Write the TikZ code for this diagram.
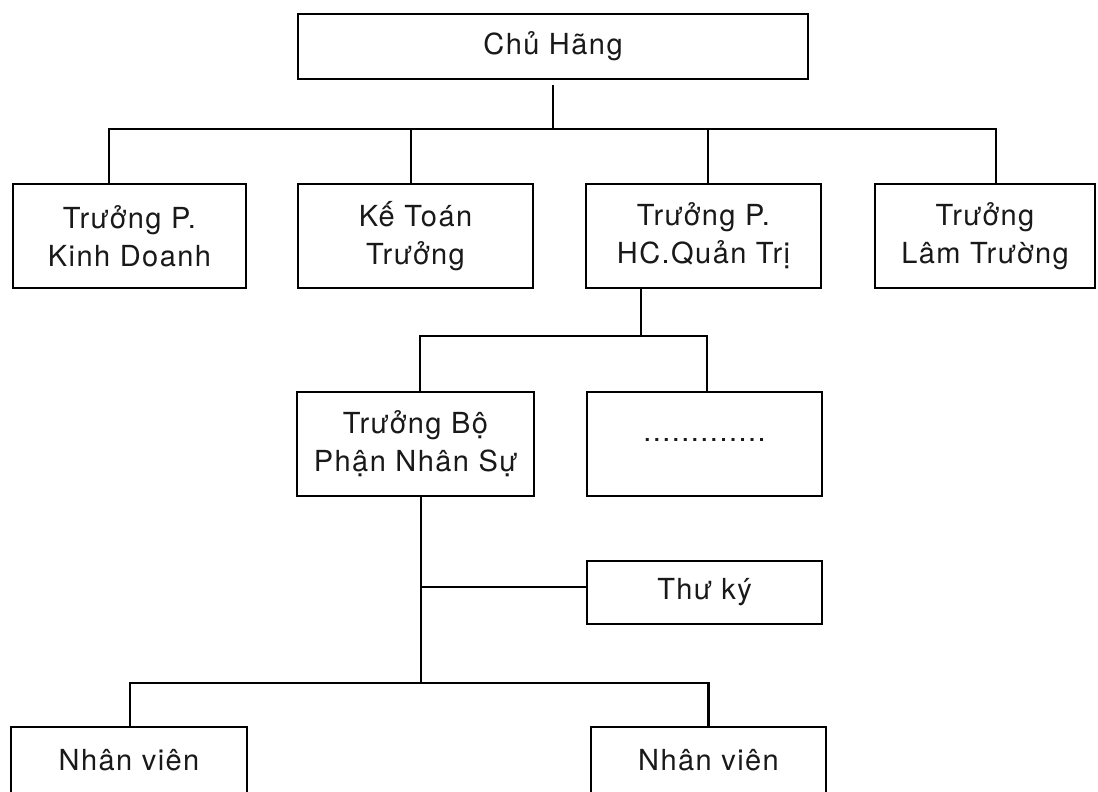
\documentclass[tikz,border=0pt]{standalone}
\usepackage{fontspec}
\setmainfont[LetterSpace=5]{TeX Gyre Heros}
\begin{document}
\begin{tikzpicture}[x=1pt,y=-1pt,
  box/.style={draw=black, line width=2.5pt, rectangle, inner sep=0pt, outer sep=0pt,
    align=center, font=\fontsize{29}{38}\selectfont, text=black!90},
  thin box/.style={box, line width=1.6pt},
  wire/.style={draw=black, line width=2.5pt, line cap=rect}]
\useasboundingbox (0,0) rectangle (1098,792);
\fill[white] (0,0) rectangle (1098,792);

% nodes
\node[box, minimum width=510pt, minimum height=65pt] (boss) at (553,46.5) {Chủ Hãng};
\node[box, minimum width=233pt, minimum height=104pt] (kd) at (129.5,236) {Trưởng P.\\Kinh Doanh};
\node[box, minimum width=235pt, minimum height=104pt] (kt) at (415.5,236) {Kế Toán\\Trưởng};
\node[box, minimum width=235pt, minimum height=104pt] (hc) at (703.5,236) {Trưởng P.\\HC.Quản Trị};
\node[box, minimum width=220pt, minimum height=104pt] (lt) at (985,236) {Trưởng\\Lâm Trường};
\node[box, minimum width=237pt, minimum height=104pt] (tbp) at (415.5,444) {Trưởng Bộ\\Phận Nhân Sự};
\node[box, minimum width=235pt, minimum height=104pt] (dots) at (704.5,444) {\raisebox{9pt}{.............}};
\node[thin box, minimum width=235pt, minimum height=63pt] (tk) at (704.5,592.5) {Thư ký};
\node[box, minimum width=236pt, minimum height=67pt] (nv1) at (129,760.5) {\raisebox{-4pt}{Nhân viên}};
\node[box, minimum width=235pt, minimum height=67pt] (nv2) at (708.5,760.5) {\raisebox{-4pt}{Nhân viên}};

% bus points
\coordinate (bus1) at (553,129);
\coordinate (bus2) at (641,336);
\coordinate (bus3) at (421,683);

% connectors
\draw[wire] ([yshift=-7pt]boss.south) -- (bus1);
\draw[wire] ([xshift=-20.5pt]kd.north) |- (bus1) -| ([xshift=11pt]lt.north);
\draw[wire] ([xshift=-4.5pt]kt.north) -- ([xshift=-4.5pt]kt.north |- bus1);
\draw[wire] ([xshift=4.5pt]hc.north) -- ([xshift=4.5pt]hc.north |- bus1);
\draw[wire] ([xshift=-62.5pt]hc.south) -- (bus2);
\draw[wire] ([xshift=4.5pt]tbp.north) |- (bus2) -| ([xshift=2.5pt]dots.north);
\draw[wire] ([xshift=5.5pt]tbp.south) -- (bus3);
\draw[wire] ([yshift=5.5pt]tk.west) -- ([yshift=5.5pt]tk.west -| bus3);
\draw[wire] ([xshift=1pt]nv1.north) |- (bus3) -| (nv2.north);
\end{tikzpicture}
\end{document}
